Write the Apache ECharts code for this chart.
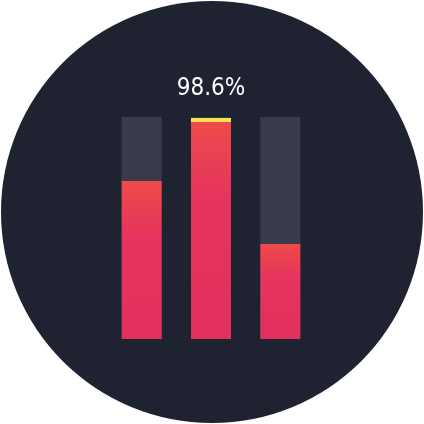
<!DOCTYPE html>
<html>
<head>
<meta charset="utf-8">
<style>
html,body{margin:0;padding:0;background:#ffffff;}
#chart{width:424px;height:424px;}
</style>
<script src="https://cdn.jsdelivr.net/npm/echarts@6/dist/echarts.min.js"></script>
</head>
<body>
<div id="chart"></div>
<script>
var categories = ['A', 'B', 'C'];
var values = [71.2, 98.6, 42.8];
var maxValue = [100, 100, 100];
var highlightIndex = 1;

var chart = echarts.init(document.getElementById('chart'), null, {renderer: 'canvas'});

var gradient = new echarts.graphic.LinearGradient(0, 0, 0, 1, [
  {offset: 0, color: '#ef4b49'},
  {offset: 0.35, color: '#e5345d'},
  {offset: 1, color: '#e2305f'}
]);

var valueData = values.map(function (v, i) {
  if (i === highlightIndex) {
    return {
      value: v,
      label: {
        show: true,
        position: 'top',
        distance: 19,
        formatter: '{c}%',
        color: '#ffffff',
        fontFamily: "'DejaVu Sans Condensed', 'Liberation Sans Narrow', Roboto, sans-serif",
        fontSize: 24,
        fontWeight: 'normal'
      }
    };
  }
  return v;
});

var capData = values.map(function (v, i) {
  return i === highlightIndex ? v : '-';
});

chart.setOption({
  backgroundColor: 'transparent',
  animation: false,
  graphic: [{
    type: 'circle',
    z: -10,
    silent: true,
    shape: {cx: 212, cy: 212, r: 211},
    style: {fill: '#1f2331'}
  }],
  grid: {left: 107, right: 109, top: 117, bottom: 85},
  xAxis: {
    type: 'category',
    data: categories,
    show: false
  },
  yAxis: {
    type: 'value',
    min: 0,
    max: 100,
    show: false
  },
  series: [
    {
      type: 'bar',
      data: maxValue,
      barWidth: 40,
      barGap: '-100%',
      silent: true,
      itemStyle: {color: '#383b4b'},
      z: 1
    },
    {
      type: 'bar',
      data: valueData,
      barWidth: 40,
      barGap: '-100%',
      itemStyle: {color: gradient},
      z: 2
    },
    {
      type: 'pictorialBar',
      data: capData,
      symbol: 'rect',
      symbolSize: [40, 4],
      symbolPosition: 'end',
      symbolOffset: [0, -2],
      itemStyle: {color: '#fde24c'},
      z: 3
    }
  ]
});
</script>
</body>
</html>
